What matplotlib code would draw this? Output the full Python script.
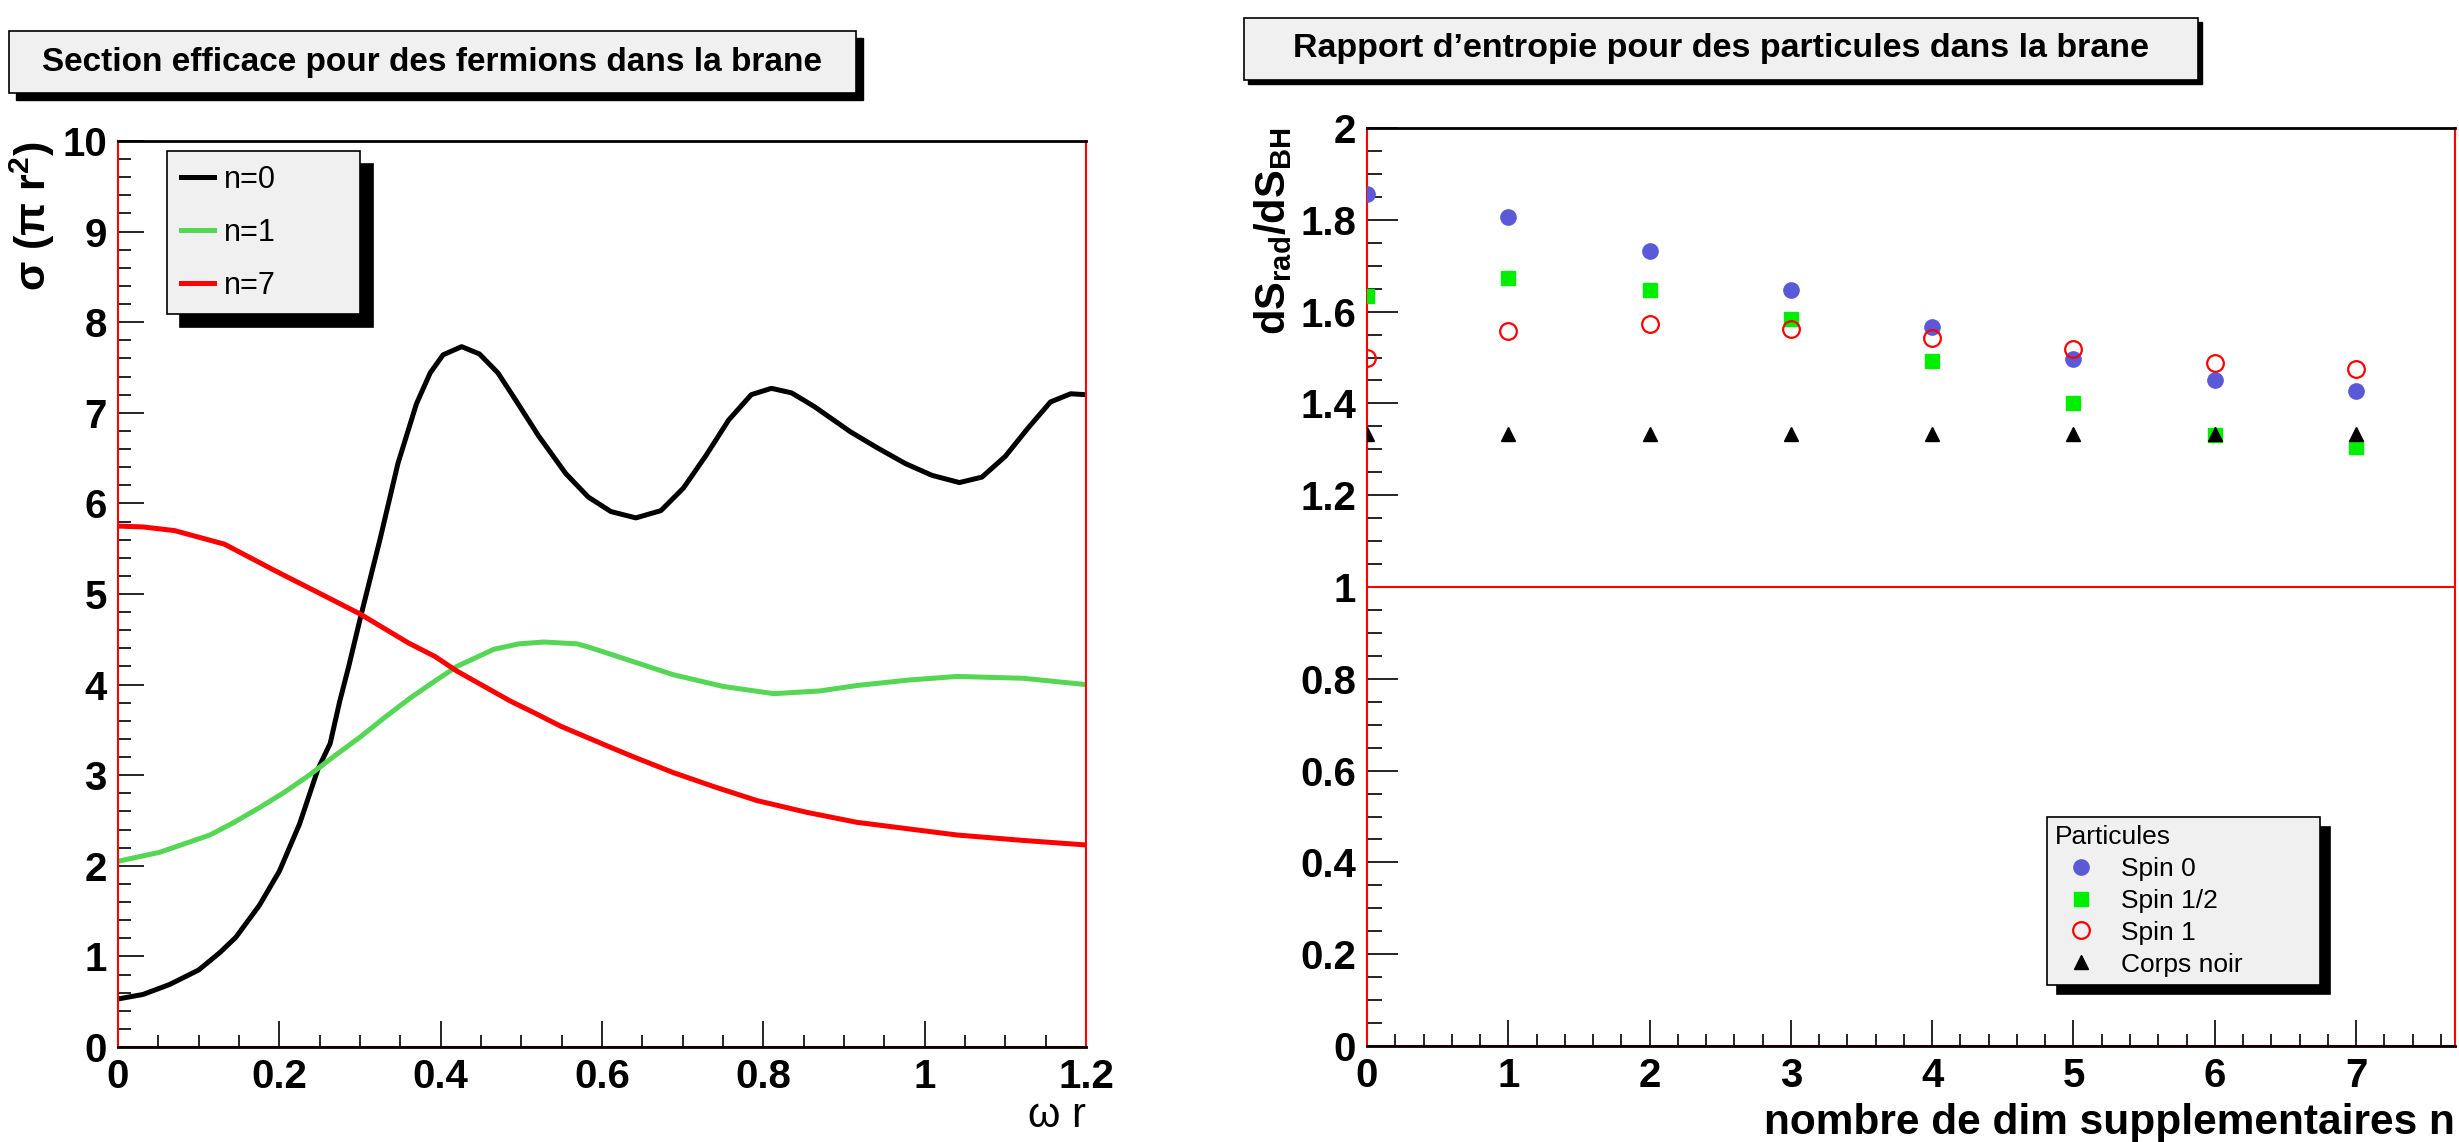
import matplotlib
matplotlib.use("Agg")
import matplotlib.pyplot as plt
import numpy as np
from matplotlib.patches import Rectangle
from matplotlib.ticker import MultipleLocator, FormatStrFormatter

plt.rcParams['font.family'] = ['Liberation Sans', 'DejaVu Sans']
plt.rcParams['mathtext.fontset'] = 'custom'
plt.rcParams['mathtext.rm'] = 'Liberation Sans:bold'
plt.rcParams['mathtext.bf'] = 'Liberation Sans:bold'
plt.rcParams['mathtext.it'] = 'Liberation Sans:bold'

# --- donnees: section efficace
x_n0 = [0, 0.031, 0.064, 0.1, 0.126, 0.146, 0.175, 0.2, 0.225, 0.248, 0.263, 0.275, 0.286,
        0.3, 0.325, 0.347, 0.370, 0.387, 0.403, 0.426, 0.448, 0.471, 0.493, 0.521, 0.555,
        0.583, 0.611, 0.642, 0.673, 0.701, 0.729, 0.757, 0.785, 0.81, 0.835, 0.863, 0.908,
        0.942, 0.976, 1.009, 1.043, 1.071, 1.1, 1.128, 1.156, 1.181, 1.2]
y_n0 = [0.53, 0.58, 0.69, 0.85, 1.04, 1.21, 1.56, 1.94, 2.46, 3.07, 3.35, 3.82, 4.2,
        4.72, 5.61, 6.44, 7.10, 7.44, 7.64, 7.73, 7.65, 7.44, 7.14, 6.75, 6.33,
        6.07, 5.91, 5.84, 5.92, 6.17, 6.53, 6.92, 7.20, 7.27, 7.22, 7.07, 6.79,
        6.61, 6.44, 6.31, 6.23, 6.29, 6.52, 6.83, 7.12, 7.21, 7.2]
x_n1 = [0, 0.052, 0.114, 0.144, 0.175, 0.206, 0.237, 0.268, 0.3, 0.331, 0.362, 0.393,
        0.42, 0.466, 0.497, 0.528, 0.569, 0.585, 0.64, 0.688, 0.75, 0.813, 0.87, 0.916,
        0.98, 1.04, 1.122, 1.2]
y_n1 = [2.05, 2.15, 2.34, 2.48, 2.64, 2.81, 3.0, 3.21, 3.42, 3.64, 3.85, 4.04,
        4.2, 4.39, 4.45, 4.47, 4.45, 4.41, 4.25, 4.11, 3.98, 3.9, 3.93, 3.99,
        4.05, 4.09, 4.07, 4.0]
x_n7 = [0, 0.031, 0.07, 0.132, 0.194, 0.225, 0.256, 0.3, 0.36, 0.393, 0.42, 0.486, 0.518,
        0.549, 0.61, 0.637, 0.688, 0.74, 0.792, 0.854, 0.916, 0.978, 1.04, 1.122, 1.2]
y_n7 = [5.75, 5.74, 5.70, 5.55, 5.26, 5.12, 4.98, 4.78, 4.46, 4.31, 4.15, 3.82, 3.68,
        3.54, 3.31, 3.21, 3.03, 2.87, 2.72, 2.59, 2.48, 2.41, 2.34, 2.28, 2.23]

# --- donnees: rapport d'entropie
n_dim = [0, 1, 2, 3, 4, 5, 6, 7]
spin0 = [1.856, 1.807, 1.732, 1.646, 1.567, 1.496, 1.452, 1.428]
spin12 = [1.634, 1.673, 1.647, 1.583, 1.492, 1.400, 1.331, 1.304]
spin1 = [1.498, 1.558, 1.572, 1.563, 1.543, 1.519, 1.489, 1.474]
corps_noir = [1.333, 1.333, 1.333, 1.333, 1.333, 1.333, 1.333, 1.333]

W, H = 2459, 1142
fig = plt.figure(figsize=(W / 100, H / 100), dpi=100)

def fx(px):
    return px / W

def fy(py):
    return 1 - py / H

def boite(x0, y0, x1, y1, dec, texte, taille):
    # ombre noire puis boite grise
    fig.add_artist(Rectangle((fx(x0 + dec), fy(y1 + dec)), fx(x1 - x0), (y1 - y0) / H,
                             transform=fig.transFigure, facecolor='black', edgecolor='black', zorder=1))
    fig.add_artist(Rectangle((fx(x0), fy(y1)), fx(x1 - x0), (y1 - y0) / H,
                             transform=fig.transFigure, facecolor='#f0f0f0', edgecolor='black',
                             lw=1.2, zorder=2))
    fig.text(fx((x0 + x1) / 2), fy((y0 + y1) / 2), texte, ha='center', va='center',
             fontsize=taille, fontweight='bold', zorder=3)

def style_axes(ax):
    for s in ['left', 'right']:
        ax.spines[s].set_color('red')
        ax.spines[s].set_linewidth(1.5)
    for s in ['top', 'bottom']:
        ax.spines[s].set_color('black')
        ax.spines[s].set_linewidth(2)
    ax.tick_params(which='both', direction='in', top=False, right=False, width=1.2)
    ax.tick_params(which='major', labelsize=29, pad=8)
    for lab in ax.get_xticklabels() + ax.get_yticklabels():
        lab.set_fontweight('bold')

# ---------------- gauche
ax1 = fig.add_axes([fx(118), fy(1047), fx(1086 - 118), (1047 - 141) / H])
ax1.plot(x_n0, y_n0, color='black', lw=3.6, label='n=0')
ax1.plot(x_n1, y_n1, color='#55d655', lw=3.6, label='n=1')
ax1.plot(x_n7, y_n7, color='red', lw=3.6, label='n=7')
ax1.set_xlim(0, 1.2)
ax1.set_ylim(0, 10)
ax1.xaxis.set_major_locator(MultipleLocator(0.2))
ax1.xaxis.set_minor_locator(MultipleLocator(0.05))
ax1.yaxis.set_major_locator(MultipleLocator(1))
ax1.yaxis.set_minor_locator(MultipleLocator(0.2))
ax1.xaxis.set_major_formatter(FormatStrFormatter('%g'))
ax1.tick_params(axis='y', which='major', length=19)
ax1.tick_params(axis='y', which='minor', length=9)
ax1.tick_params(axis='x', which='major', length=19)
ax1.tick_params(axis='x', which='minor', length=9)
style_axes(ax1)
ax1.axhline(0, color='red', lw=1.5)
ax1.axhline(10, color='red', lw=1.5)
ax1.set_xlabel('ω r', fontsize=30, loc='right', labelpad=0)
ax1.set_ylabel('σ (π r$^{2}$)', fontsize=31, fontweight='bold', loc='top', labelpad=4)
leg1 = ax1.legend(loc='upper left', bbox_to_anchor=(fx(167), fy(151) - 0.01, fx(360 - 167), 0.01),
                  bbox_transform=fig.transFigure, mode='expand',
                  fontsize=22, frameon=True, fancybox=False, edgecolor='black', facecolor='#f0f0f0',
                  framealpha=1, handlelength=1.1, handletextpad=0.3, labelspacing=0.75,
                  borderpad=0.45, borderaxespad=0,
                  shadow={'ox': 9, 'oy': -9, 'color': 'black', 'alpha': 1})
leg1.get_frame().set_linewidth(1.2)

# ---------------- droite
ax2 = fig.add_axes([fx(1367), fy(1046), fx(2455 - 1367), (1046 - 128) / H])
ax2.plot(n_dim, spin0, 'o', color='#5a5ad8', ms=11, label='Spin 0', zorder=3)
ax2.plot(n_dim, spin12, 's', color='#00ee00', ms=10, label='Spin 1/2', zorder=3)
ax2.plot(n_dim, spin1, 'o', mfc='none', mec='red', mew=1.6, ms=12, label='Spin 1', zorder=3)
ax2.plot(n_dim, corps_noir, '^', color='black', ms=10, label='Corps noir', zorder=4)
ax2.axhline(1, color='red', lw=1.5)
ax2.set_xlim(0, 7.7)
ax2.set_ylim(0, 2)
ax2.xaxis.set_major_locator(MultipleLocator(1))
ax2.xaxis.set_minor_locator(MultipleLocator(0.2))
ax2.yaxis.set_major_locator(MultipleLocator(0.2))
ax2.yaxis.set_minor_locator(MultipleLocator(0.05))
ax2.yaxis.set_major_formatter(FormatStrFormatter('%g'))
ax2.tick_params(axis='y', which='major', length=22)
ax2.tick_params(axis='y', which='minor', length=11)
ax2.tick_params(axis='x', which='major', length=19)
ax2.tick_params(axis='x', which='minor', length=9)
style_axes(ax2)
ax2.axhline(0, color='red', lw=1.5)
ax2.axhline(2, color='red', lw=1.5)
ax2.set_xlabel('nombre de dim supplementaires n', fontsize=30.5, fontweight='bold', loc='right', labelpad=6)
ax2.set_ylabel(r'$\mathbf{dS_{rad}/dS_{BH}}$', fontsize=30, loc='top', labelpad=4)
leg2 = ax2.legend(loc='upper left', bbox_to_anchor=(fx(2047), fy(817) - 0.01, fx(2320 - 2047), 0.01),
                  bbox_transform=fig.transFigure, mode='expand',
                  title='Particules', alignment='left', title_fontsize=19, fontsize=19,
                  frameon=True, fancybox=False, edgecolor='black', facecolor='#f0f0f0',
                  framealpha=1, handlelength=2.0, handletextpad=0.52, labelspacing=0.3,
                  borderpad=0.3, borderaxespad=0,
                  shadow={'ox': 7, 'oy': -7, 'color': 'black', 'alpha': 1})
leg2.get_frame().set_linewidth(1.2)

# ---------------- titres
boite(9, 31, 856, 93, 7, 'Section efficace pour des fermions dans la brane', 24)
boite(1244, 18, 2198, 80, 4, 'Rapport d’entropie pour des particules dans la brane', 24.5)

fig.savefig('out.png', dpi=100)
